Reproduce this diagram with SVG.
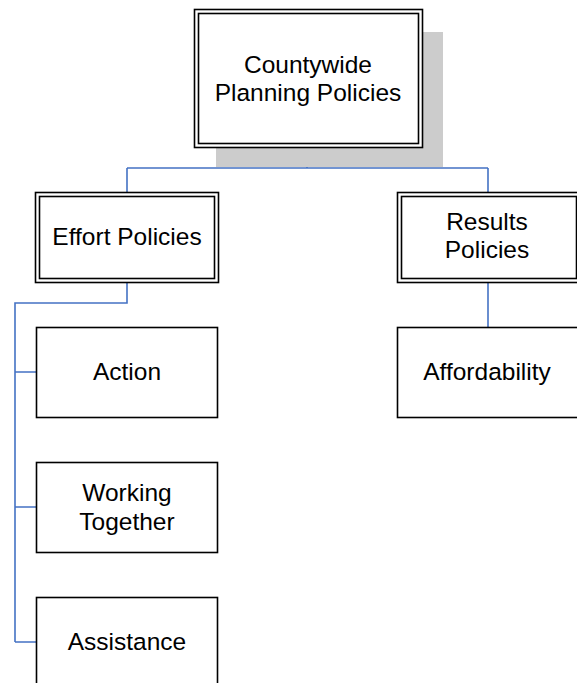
<svg xmlns="http://www.w3.org/2000/svg" width="577" height="683" viewBox="0 0 577 683">
<style>
.box{fill:#ffffff;stroke:#000000;stroke-width:1.6}
.t{font-family:"Liberation Sans",Arial,sans-serif;font-size:24.5px;fill:#000000;text-anchor:middle}
.c{fill:none;stroke:#4472C4;stroke-width:1.6}
</style>
<rect width="577" height="683" fill="#ffffff"/>
<g id="connectors">
<path class="c" d="M307 147 V168 M127 168 H488 M127 168 V192 M488 168 V192"/>
<path class="c" d="M127 282 V303 H15 V642 M15 372 H36 M15 507 H36 M15 642 H36"/>
<path class="c" d="M488 282 V327"/>
</g>
<g id="countywide">
<rect x="216" y="32" width="227" height="135" fill="#cccccc"/>
<rect class="box" x="194.5" y="9.5" width="228" height="138"/>
<rect class="box" x="198.5" y="13.5" width="220" height="130"/>
<text class="t" x="308" y="72.5">Countywide</text>
<text class="t" x="308" y="101">Planning Policies</text>
</g>
<g id="effort">
<rect class="box" x="35.5" y="192.5" width="183" height="90"/>
<rect class="box" x="39.5" y="196.5" width="175" height="82"/>
<text class="t" x="127" y="245">Effort Policies</text>
</g>
<g id="results">
<rect class="box" x="397.5" y="192.5" width="183" height="90"/>
<rect class="box" x="401.5" y="196.5" width="175" height="82"/>
<text class="t" x="487" y="229.5">Results</text>
<text class="t" x="487" y="258">Policies</text>
</g>
<g id="action">
<rect class="box" x="36.5" y="327.5" width="181" height="90"/>
<text class="t" x="127" y="380">Action</text>
</g>
<g id="working">
<rect class="box" x="36.5" y="462.5" width="181" height="90"/>
<text class="t" x="127" y="501">Working</text>
<text class="t" x="127" y="529.5">Together</text>
</g>
<g id="assistance">
<rect class="box" x="36.5" y="597.5" width="181" height="95"/>
<text class="t" x="127" y="650">Assistance</text>
</g>
<g id="affordability">
<rect class="box" x="397.5" y="327.5" width="183" height="90"/>
<text class="t" x="487" y="380">Affordability</text>
</g>
</svg>
